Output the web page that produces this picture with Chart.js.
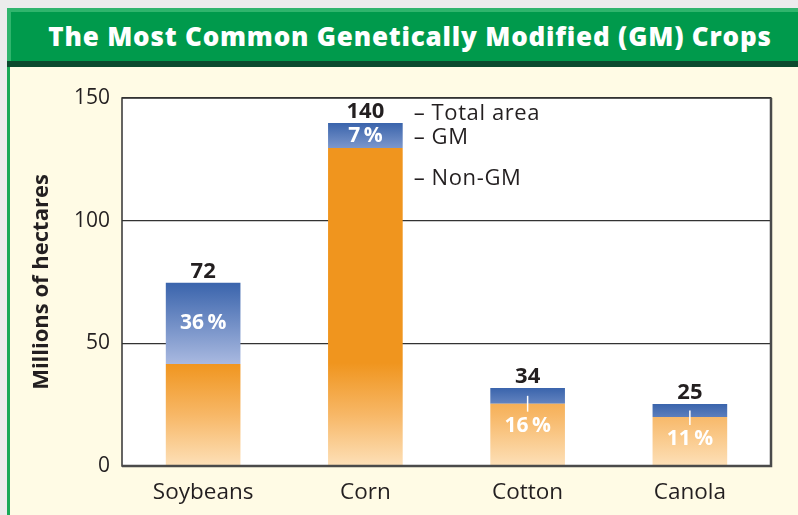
<!DOCTYPE html>
<html>
<head>
<meta charset="utf-8">
<script src="https://cdn.jsdelivr.net/npm/chart.js@4.4.1/dist/chart.umd.min.js"></script>
<style>
    html, body { margin: 0; padding: 0; }
    body { width: 798px; height: 515px; background: #ececec; position: relative; overflow: hidden; font-family: "Open Sans", sans-serif; }
    .panel { position: absolute; left: 7px; top: 8px; right: 0; bottom: 0; background: #fffbe5; border-left: 3px solid #1aa957; }
    .head { position: absolute; left: 7px; top: 8px; right: 0; height: 53px; background: #009a4c; border-top: 4px solid #30b56d; border-left: 4px solid #30b56d; box-sizing: border-box; }
    .band { position: absolute; left: 7px; top: 61px; right: 0; height: 6px; background: #0c4a2e; }
    .title { position: absolute; left: 40px; width: 740px; top: 19px; line-height: 34px; font-size: 26px; font-weight: 800; letter-spacing: 0.8px; color: #fff; text-align: center; white-space: nowrap; }
    #wrap { position: absolute; left: 0; top: 0; width: 798px; height: 515px; }
</style>
</head>
<body>
<div class="panel"></div>
<div class="head"></div>
<div class="band"></div>
<div class="title">The Most Common Genetically Modified (GM) Crops</div>
<div id="wrap"><canvas id="gmChart"></canvas></div>
<script>
// ==================== DATA ====================
const categories = ['Soybeans', 'Corn', 'Cotton', 'Canola'];
const nonGmArea = [41.6, 129.6, 25.4, 20.0];   // millions of hectares
const gmArea = [33.1, 10.2, 6.4, 5.3];
const totalLabels = ['72', '140', '34', '25'];
const gmShare = ['36\u2009%', '7\u2009%', '16\u2009%', '11\u2009%'];
const shareInside = [true, true, false, false];
const yTicks = [0, 50, 100, 150];
const keyLabels = ['\u2013 Total area', '\u2013 GM', '\u2013 Non-GM'];

const FONT = '"Open Sans", sans-serif';
const INK = '#231f20';

// ==================== FILLS ====================
function orangeFill(c) {
    const chart = c.chart;
    const area = chart.chartArea;
    if (!area) return '#f0951e';
    const y = chart.scales.y;
    const g = chart.ctx.createLinearGradient(0, area.bottom, 0, y.getPixelForValue(42));
    g.addColorStop(0, '#fde0b8');
    g.addColorStop(0.5, '#f7b766');
    g.addColorStop(1, '#f0951e');
    return g;
}

function blueFill(c) {
    const chart = c.chart;
    const area = chart.chartArea;
    if (!area) return '#3d67ae';
    const i = c.dataIndex;
    const y = chart.scales.y;
    const top = y.getPixelForValue(nonGmArea[i] + gmArea[i]);
    const bot = y.getPixelForValue(nonGmArea[i]);
    const g = chart.ctx.createLinearGradient(0, top, 0, top + Math.max(bot - top, 42));
    g.addColorStop(0, '#3a64ac');
    g.addColorStop(1, '#a9b9e0');
    return g;
}

// ==================== PLUGINS ====================
const plotBox = {
    id: 'plotBox',
    beforeDraw(chart) {
        const { ctx, chartArea: a } = chart;
        ctx.save();
        ctx.fillStyle = '#ffffff';
        ctx.fillRect(a.left, a.top, a.width, a.height);
        ctx.restore();
    },
    afterDatasetsDraw(chart) {
        const { ctx, chartArea: a } = chart;
        ctx.save();
        ctx.strokeStyle = '#333';
        ctx.lineWidth = 1.5;
        ctx.strokeRect(a.left, a.top, a.width, a.height);
        ctx.strokeStyle = '#4a4a4a';
        ctx.lineWidth = 2.5;
        ctx.beginPath();
        ctx.moveTo(a.left, a.bottom);
        ctx.lineTo(a.right, a.bottom);
        ctx.lineTo(a.right, a.top);
        ctx.stroke();
        ctx.restore();
    }
};

const barNotes = {
    id: 'barNotes',
    afterDatasetsDraw(chart) {
        const ctx = chart.ctx;
        const bars = chart.getDatasetMeta(1).data;
        ctx.save();
        bars.forEach((bar, i) => {
            const x = bar.x;
            const top = bar.y;
            const gmBottom = bar.base;

            ctx.font = 'bold 22px ' + FONT;
            ctx.fillStyle = INK;
            ctx.textAlign = 'center';
            ctx.textBaseline = 'alphabetic';
            ctx.fillText(totalLabels[i], x, top - 5);

            ctx.font = 'bold 21px ' + FONT;
            ctx.fillStyle = '#ffffff';
            ctx.textBaseline = 'middle';
            if (shareInside[i]) {
                ctx.fillText(gmShare[i], x, (top + gmBottom) / 2);
            } else {
                const ly = gmBottom + 22;
                ctx.strokeStyle = '#ffffff';
                ctx.lineWidth = 1.5;
                ctx.beginPath();
                ctx.moveTo(x, (top + gmBottom) / 2);
                ctx.lineTo(x, ly - 14);
                ctx.stroke();
                ctx.fillText(gmShare[i], x, ly);
            }
        });

        // key next to the tallest bar
        const corn = bars[1];
        const kx = corn.x + corn.width / 2 + 11;
        ctx.font = '22px ' + FONT;
        ctx.letterSpacing = '0.6px';
        ctx.fillStyle = INK;
        ctx.textAlign = 'left';
        ctx.textBaseline = 'alphabetic';
        ctx.fillText(keyLabels[0], kx, corn.y - 3);
        ctx.fillText(keyLabels[1], kx, (corn.y + corn.base) / 2 + 8);
        ctx.fillText(keyLabels[2], kx, corn.base + 37);
        ctx.restore();
    }
};

// ==================== CHART ====================
new Chart(document.getElementById('gmChart'), {
    type: 'bar',
    data: {
        labels: categories,
        datasets: [
            { label: 'Non-GM', data: nonGmArea, backgroundColor: orangeFill, borderWidth: 0 },
            { label: 'GM', data: gmArea, backgroundColor: blueFill, borderWidth: 0 }
        ]
    },
    options: {
        responsive: true,
        maintainAspectRatio: false,
        animation: false,
        categoryPercentage: 0.46,
        barPercentage: 1,
        layout: { padding: { top: 98, right: 27, bottom: 0, left: 0 } },
        plugins: {
            legend: { display: false },
            tooltip: { enabled: false }
        },
        scales: {
            x: {
                stacked: true,
                grid: { display: false },
                border: { display: false },
                ticks: { color: INK, font: { family: FONT, size: 22.5 }, padding: 5 },
                afterFit(s) { s.height = 49; s.paddingLeft = 0; s.paddingRight = 0; }
            },
            y: {
                stacked: true,
                min: 0,
                max: 150,
                afterBuildTicks(s) { s.ticks = yTicks.map(v => ({ value: v })); },
                ticks: { color: INK, font: { family: FONT, size: 21 }, padding: 12 },
                grid: { color: '#333', lineWidth: 1.2, drawTicks: false },
                border: { display: false },
                title: {
                    display: true,
                    text: 'Millions of hectares',
                    color: INK,
                    font: { family: FONT, size: 22, weight: 'bold' },
                    padding: { top: 29, bottom: 0 }
                },
                afterFit(s) { s.width = 122; s.paddingTop = 0; s.paddingBottom = 0; }
            }
        }
    },
    plugins: [plotBox, barNotes]
});
</script>
</body>
</html>
